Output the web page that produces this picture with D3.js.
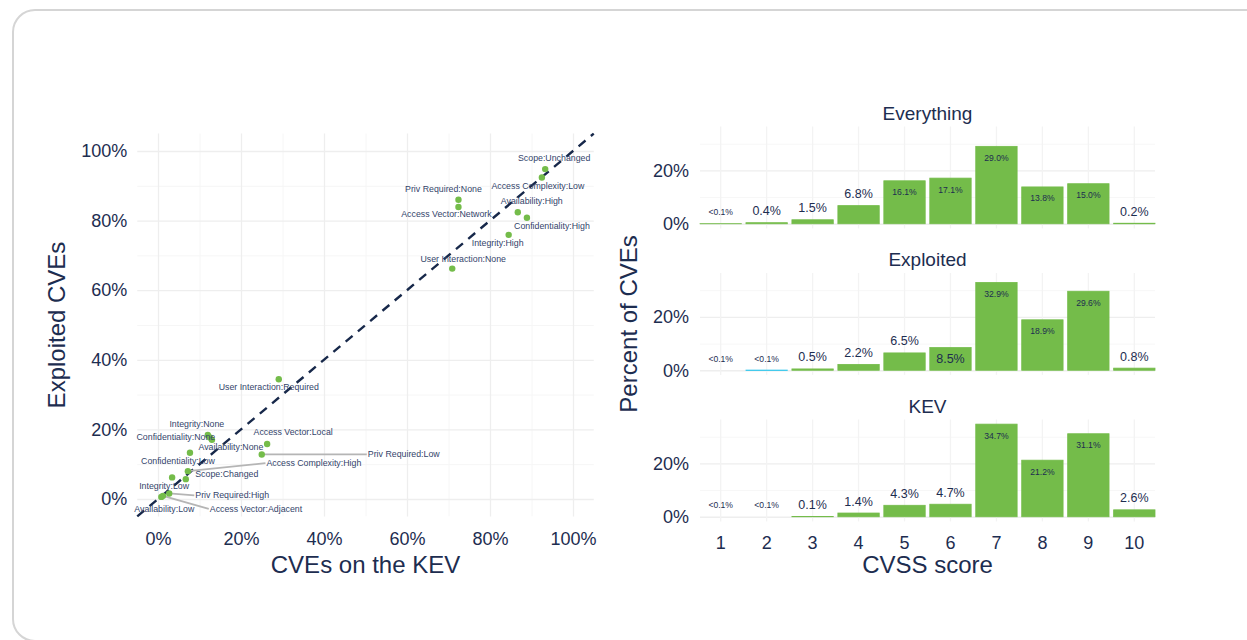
<!DOCTYPE html>
<html>
<head>
<meta charset="utf-8">
<script src="https://cdn.jsdelivr.net/npm/d3@7"></script>
<style>
  body { margin: 0; background: #fff; }
  svg text { font-family: "Liberation Sans", Arial, sans-serif; }
</style>
</head>
<body>
<svg id="chart" width="1247" height="640"></svg>
<script>
// ── data: scatter (share of CVEs on KEV vs share exploited) ──
const METRICS = [
  "Scope:Unchanged", "Access Complexity:Low", "Priv Required:None", "Access Vector:Network",
  "Availability:High", "Confidentiality:High", "Integrity:High", "User Interaction:None",
  "User Interaction:Required", "Integrity:None", "Confidentiality:None", "Availability:None",
  "Access Vector:Local", "Priv Required:Low", "Confidentiality:Low", "Access Complexity:High",
  "Scope:Changed", "Integrity:Low", "Priv Required:High", "Availability:Low", "Access Vector:Adjacent"
];
const KEV_SHARE = [0.933, 0.925, 0.724, 0.724, 0.867, 0.889, 0.845, 0.709,
  0.291, 0.120, 0.125, 0.130, 0.263, 0.250, 0.077, 0.072, 0.067, 0.034, 0.027, 0.008, 0.012];
const EXPLOITED_SHARE = [0.948, 0.924, 0.860, 0.839, 0.824, 0.808, 0.759, 0.662,
  0.344, 0.184, 0.177, 0.170, 0.158, 0.128, 0.133, 0.080, 0.057, 0.062, 0.016, 0.006, 0.009];

// ── data: CVSS score distribution per facet (percent) ──
const SCORES = ["1", "2", "3", "4", "5", "6", "7", "8", "9", "10"];
const FACETS = ["Everything", "Exploited", "KEV"];
const EVERYTHING = [0.05, 0.4, 1.5, 6.8, 16.1, 17.1, 29.0, 13.8, 15.0, 0.2];
const EXPLOITED  = [null, 0.05, 0.5, 2.2, 6.5, 8.5, 32.9, 18.9, 29.6, 0.8];
const KEV        = [null, null, 0.1, 1.4, 4.3, 4.7, 34.7, 21.2, 31.1, 2.6];
const PCT_TICKS  = [0, 20];

// ── layout: repelled label offsets (px from point) ──
const LABEL_OFFSET = {
  "Scope:Unchanged": [9, -11], "Access Complexity:Low": [-4, 9],
  "Priv Required:None": [-15, -11], "Access Vector:Network": [-12, 7],
  "Availability:High": [14, -11], "Confidentiality:High": [25, 8],
  "Integrity:High": [-11, 8], "User Interaction:None": [11, -10],
  "User Interaction:Required": [-10, 8], "Integrity:None": [-11, -11],
  "Confidentiality:None": [-34, 0], "Availability:None": [19, 7.5],
  "Access Vector:Local": [26, -12], "Priv Required:Low": [142, 0],
  "Confidentiality:Low": [-12, 8.5], "Access Complexity:High": [126, -8],
  "Scope:Changed": [41, -5], "Integrity:Low": [-8, 9],
  "Priv Required:High": [63, 2], "Availability:Low": [3, 12],
  "Access Vector:Adjacent": [93, 13]
};
const WITH_SEGMENT = ["Priv Required:Low", "Access Complexity:High", "Priv Required:High", "Access Vector:Adjacent"];

const NAVY  = "#1d2d50";
const GREEN = "#74bc4a";
const CYAN  = "#00bceb";
const GRID  = "#eeeeee";

const svg = d3.select("#chart");

// ── card ──
svg.append("rect")
  .attr("x", 13).attr("y", 10).attr("width", 1300).attr("height", 631)
  .attr("rx", 22).attr("fill", "#fff")
  .attr("stroke", "#d5d5d5").attr("stroke-width", 2);

// ── 1. Scatter ─────────────────────────────
const sx = d3.scaleLinear().domain([-0.05, 1.05]).range([137.25, 593.75]);
const sy = d3.scaleLinear().domain([-0.05, 1.05]).range([516.4, 133.6]);
const major = [0, 0.2, 0.4, 0.6, 0.8, 1];
const minor = [0.1, 0.3, 0.5, 0.7, 0.9];
const sh = sy.range()[0] - sy.range()[1];
const sw = sx.range()[1] - sx.range()[0];

function gridLines(g, color, width) {
  g.select(".domain").remove();
  g.selectAll("line").attr("stroke", color).attr("stroke-width", width);
}

const sg = svg.append("g");
sg.append("g").attr("transform", `translate(0,${sy.range()[0]})`)
  .call(d3.axisBottom(sx).tickValues(minor).tickSize(-sh).tickFormat(""))
  .call(g => gridLines(g, "#f6f6f6", 1));
sg.append("g").attr("transform", `translate(${sx.range()[0]},0)`)
  .call(d3.axisLeft(sy).tickValues(minor).tickSize(-sw).tickFormat(""))
  .call(g => gridLines(g, "#f6f6f6", 1));
sg.append("g").attr("transform", `translate(0,${sy.range()[0]})`)
  .call(d3.axisBottom(sx).tickValues(major).tickSize(-sh).tickFormat(""))
  .call(g => gridLines(g, GRID, 1.3));
sg.append("g").attr("transform", `translate(${sx.range()[0]},0)`)
  .call(d3.axisLeft(sy).tickValues(major).tickSize(-sw).tickFormat(""))
  .call(g => gridLines(g, GRID, 1.3));

// tick labels
sg.append("g").attr("transform", `translate(0,${sy.range()[0]})`)
  .call(d3.axisBottom(sx).tickValues(major).tickFormat(d3.format(".0%")).tickSize(0).tickPadding(16))
  .call(g => { g.select(".domain").remove(); g.selectAll("text").attr("font-size", 18).attr("fill", NAVY); });
sg.append("g").attr("transform", `translate(${sx.range()[0]},0)`)
  .call(d3.axisLeft(sy).tickValues(major).tickFormat(d3.format(".0%")).tickSize(0).tickPadding(10))
  .call(g => { g.select(".domain").remove(); g.selectAll("text").attr("font-size", 18).attr("fill", NAVY); });

// y = x reference
sg.append("line")
  .attr("x1", sx(-0.05)).attr("y1", sy(-0.05))
  .attr("x2", sx(1.05)).attr("y2", sy(1.05))
  .attr("stroke", "#17284a").attr("stroke-width", 2.4)
  .attr("stroke-dasharray", "9,7");

const pts = METRICS.map((m, i) => ({
  name: m, x: sx(KEV_SHARE[i]), y: sy(EXPLOITED_SHARE[i]),
  lx: sx(KEV_SHARE[i]) + LABEL_OFFSET[m][0], ly: sy(EXPLOITED_SHARE[i]) + LABEL_OFFSET[m][1]
}));

const segG = sg.append("g");
const dotG = sg.append("g");
const labG = sg.append("g");

dotG.selectAll("circle").data(pts).join("circle")
  .attr("cx", d => d.x).attr("cy", d => d.y).attr("r", 3.2)
  .attr("fill", GREEN);

const labels = labG.selectAll("text").data(pts).join("text")
  .attr("x", d => d.lx).attr("y", d => d.ly)
  .attr("text-anchor", "middle").attr("dominant-baseline", "central")
  .attr("font-size", 8.8).attr("fill", "#33446a")
  .text(d => d.name);

labels.each(function (d) {
  if (!WITH_SEGMENT.includes(d.name)) return;
  const bb = this.getBBox();
  segG.append("line")
    .attr("x1", d.x).attr("y1", d.y)
    .attr("x2", bb.x - 1).attr("y2", d.ly)
    .attr("stroke", "#b5b5b5").attr("stroke-width", 1.8);
});

// axis titles
svg.append("text")
  .attr("x", (sx.range()[0] + sx.range()[1]) / 2).attr("y", 573)
  .attr("text-anchor", "middle").attr("font-size", 24).attr("fill", NAVY)
  .text("CVEs on the KEV");
svg.append("text")
  .attr("transform", `translate(65,${(sy.range()[0] + sy.range()[1]) / 2}) rotate(-90)`)
  .attr("text-anchor", "middle").attr("font-size", 24).attr("fill", NAVY)
  .text("Exploited CVEs");

// ── 2. Faceted bar charts ──────────────────
const fx = d3.scaleBand().domain(SCORES).range([700, 1155]).paddingInner(0.1).paddingOuter(0);
const panelTops = [126.5, 273, 419.5];
const panelH = 101.9;
const series = [EVERYTHING, EXPLOITED, KEV];
const fmt = v => (v == null || v < 0.1) ? "<0.1%" : v.toFixed(1) + "%";

FACETS.forEach((facet, fi) => {
  const top = panelTops[fi];
  const fy = d3.scaleLinear().domain([-1.735, 36.435]).range([top + panelH, top]);
  const g = svg.append("g");

  // grid
  g.append("g").attr("transform", `translate(700,0)`)
    .call(d3.axisLeft(fy).tickValues([10, 30]).tickSize(-455).tickFormat(""))
    .call(a => gridLines(a, "#f7f7f7", 1));
  g.append("g").attr("transform", `translate(700,0)`)
    .call(d3.axisLeft(fy).tickValues(PCT_TICKS).tickSize(-455).tickFormat(""))
    .call(a => gridLines(a, GRID, 1.3));
  g.append("g").attr("transform", `translate(0,${top + panelH})`)
    .call(d3.axisBottom(fx).tickSize(-panelH).tickFormat(""))
    .call(a => gridLines(a, "#f3f3f3", 1.3));

  // y tick labels
  g.append("g").attr("transform", `translate(700,0)`)
    .call(d3.axisLeft(fy).tickValues(PCT_TICKS).tickFormat(d => d + "%").tickSize(0).tickPadding(11))
    .call(a => { a.select(".domain").remove(); a.selectAll("text").attr("font-size", 18).attr("fill", NAVY); });

  // strip title
  g.append("text")
    .attr("x", 927.5).attr("y", top - 13.5)
    .attr("text-anchor", "middle").attr("dominant-baseline", "central")
    .attr("font-size", 19).attr("fill", NAVY)
    .text(facet);

  const rows = SCORES.map((s, i) => ({ score: s, v: series[fi][i] }));
  const isHi = d => facet === "Exploited" && d.score === "2";

  g.append("g").selectAll("rect").data(rows.filter(d => d.v != null)).join("rect")
    .attr("x", d => fx(d.score))
    .attr("width", fx.bandwidth())
    .attr("y", d => fy(d.v))
    .attr("height", d => fy(0) - fy(d.v))
    .attr("fill", d => isHi(d) ? CYAN : GREEN)
    .attr("stroke", d => isHi(d) ? CYAN : GREEN)
    .attr("stroke-width", 0.8);

  g.append("g").selectAll("text").data(rows).join("text")
    .attr("x", d => fx(d.score) + fx.bandwidth() / 2)
    .attr("y", d => {
      const v = d.v == null ? 0 : d.v;
      return v > 8 ? fy(v) + 11.5 : fy(v) - 11.5;
    })
    .attr("text-anchor", "middle").attr("dominant-baseline", "central")
    .attr("font-size", d => fmt(d.v).length >= 5 ? 8.6 : 12.5)
    .attr("fill", NAVY)
    .text(d => fmt(d.v));

  if (fi === FACETS.length - 1) {
    g.append("g").attr("transform", `translate(0,${top + panelH})`)
      .call(d3.axisBottom(fx).tickSize(0).tickPadding(15))
      .call(a => { a.select(".domain").remove(); a.selectAll("text").attr("font-size", 18).attr("fill", NAVY); });
  }
});

svg.append("text")
  .attr("x", 927.5).attr("y", 573)
  .attr("text-anchor", "middle").attr("font-size", 24).attr("fill", NAVY)
  .text("CVSS score");
svg.append("text")
  .attr("transform", `translate(637,${(panelTops[0] + panelTops[2] + panelH) / 2}) rotate(-90)`)
  .attr("text-anchor", "middle").attr("font-size", 24).attr("fill", NAVY)
  .text("Percent of CVEs");
</script>
</body>
</html>
